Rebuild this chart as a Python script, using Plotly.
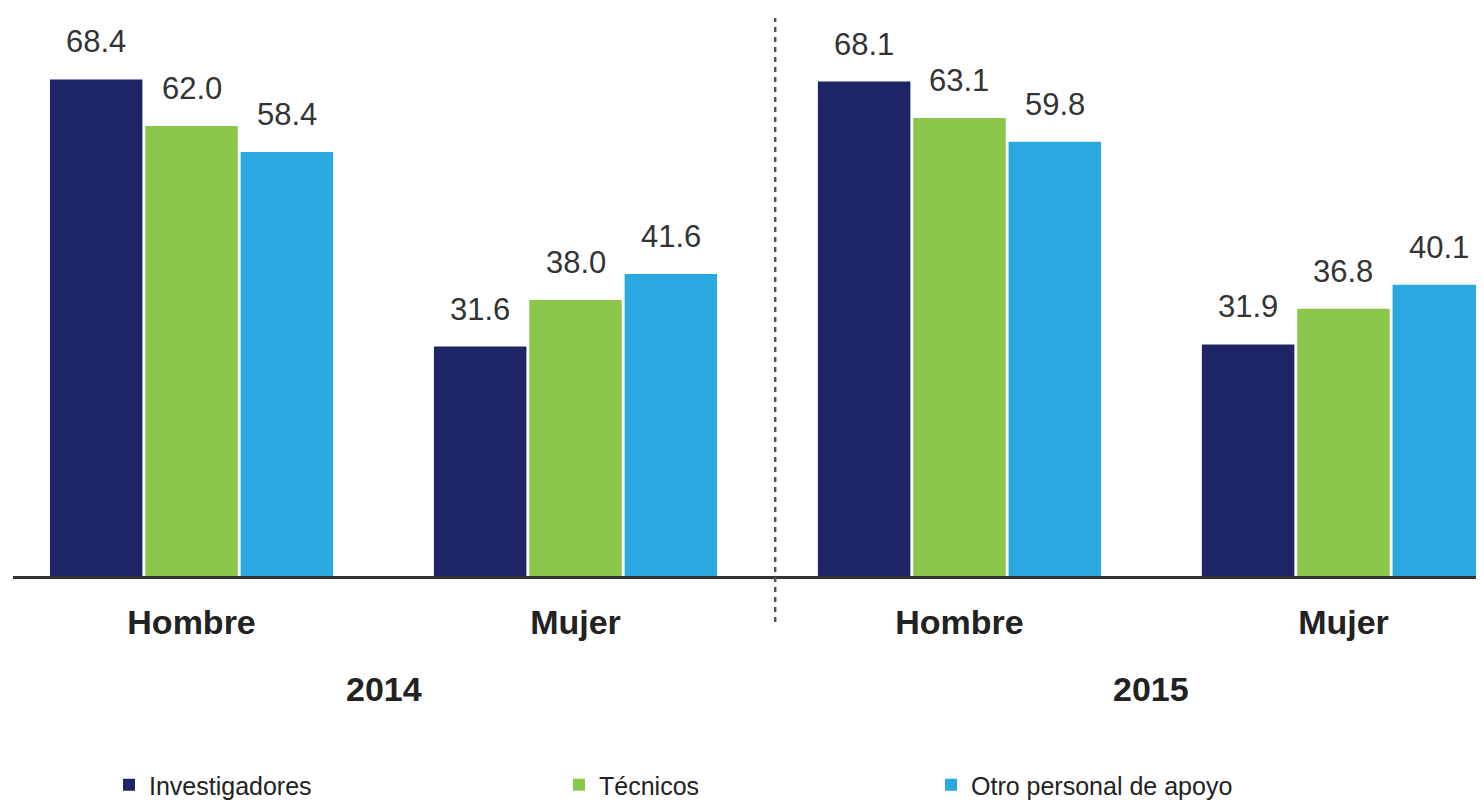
import plotly.graph_objects as go

# ---- data ----
categories = ["Hombre|2014", "Mujer|2014", "Hombre|2015", "Mujer|2015"]
tick_labels = ["Hombre", "Mujer", "Hombre", "Mujer"]
years = ["2014", "2015"]
investigadores = [68.4, 31.6, 68.1, 31.9]
tecnicos = [62.0, 38.0, 63.1, 36.8]
otro_personal = [58.4, 41.6, 59.8, 40.1]

series_names = ["Investigadores", "Técnicos", "Otro personal de apoyo"]
series_values = [investigadores, tecnicos, otro_personal]
colors = ["#1d2566", "#8cc74b", "#29a9e0"]

# ---- layout params ----
OFF = 8  # page body margin in the browser
W, H = 1484, 806
ML, MR, MT = 13 - OFF, OFF, 0
BASE_FIG = 576 - OFF           # baseline position inside the figure
MB = H - BASE_FIG
PLOT_H = H - MT - MB
BARGAP = 0.255
BARGROUPGAP = 0.03
X_RANGE = [-0.465, 3.366]
Y_RANGE = [0, PLOT_H / 7.26]
FONT = "Liberation Sans, Arial, Helvetica, sans-serif"

plot_w = W - ML - MR
px_per_unit = plot_w / (X_RANGE[1] - X_RANGE[0])
slot_px = (1 - BARGAP) / 3 * px_per_unit


def paper_y(screen_y):
    return (BASE_FIG - (screen_y - OFF)) / PLOT_H


fig = go.Figure()
legend_ids = ["legend", "legend2", "legend3"]
for i, (name, vals, col) in enumerate(zip(series_names, series_values, colors)):
    fig.add_trace(go.Bar(
        x=categories, y=vals, name=name,
        marker=dict(color=col, line=dict(width=0)),
        legend=legend_ids[i], showlegend=True,
    ))
    for c, v in zip(categories, vals):
        fig.add_annotation(
            x=c, y=v, xref="x", yref="y", text=f"{v:.1f}",
            showarrow=False, yanchor="bottom", xanchor="center",
            xshift=(i - 1) * slot_px, yshift=18,
            font=dict(family=FONT, size=31, color="#333333"),
        )

# year labels
for k, yr in enumerate(years):
    fig.add_annotation(
        x=2 * k + 0.5, y=paper_y(689), xref="x", yref="paper", text=f"<b>{yr}</b>",
        showarrow=False, yanchor="middle", xanchor="center",
        font=dict(family=FONT, size=34, color="#222222"),
    )

# dashed separator between years
fig.add_shape(type="line", xref="x", yref="paper", x0=1.52, x1=1.52,
              y0=paper_y(622), y1=paper_y(18),
              line=dict(color="#555555", width=2.5, dash="5px,5px"))

legend_x_fig = [101, 551, 923]
leg_common = dict(orientation="h", xref="container", yref="container",
                  y=1 - 777 / H, yanchor="middle", xanchor="left",
                  bgcolor="rgba(0,0,0,0)",
                  font=dict(family=FONT, size=25, color="#222222"))
fig.update_layout(
    width=W, height=H,
    margin=dict(l=ML, r=MR, t=MT, b=MB),
    paper_bgcolor="white", plot_bgcolor="white",
    barmode="group", bargap=BARGAP, bargroupgap=BARGROUPGAP,
    font=dict(family=FONT, color="#222222"),
    showlegend=True,
    legend=dict(x=legend_x_fig[0] / W, **leg_common),
    legend2=dict(x=legend_x_fig[1] / W, **leg_common),
    legend3=dict(x=legend_x_fig[2] / W, **leg_common),
    xaxis=dict(
        type="category", range=X_RANGE,
        tickvals=categories, ticktext=[f"<b>{t}</b>" for t in tick_labels],
        tickfont=dict(family=FONT, size=34, color="#222222"),
        showline=True, linecolor="#333333", linewidth=2.5,
        showgrid=False, ticks="", ticklabelstandoff=14,
    ),
    yaxis=dict(range=Y_RANGE, visible=False, showgrid=False, zeroline=False),
)

fig.write_html("out.html")
